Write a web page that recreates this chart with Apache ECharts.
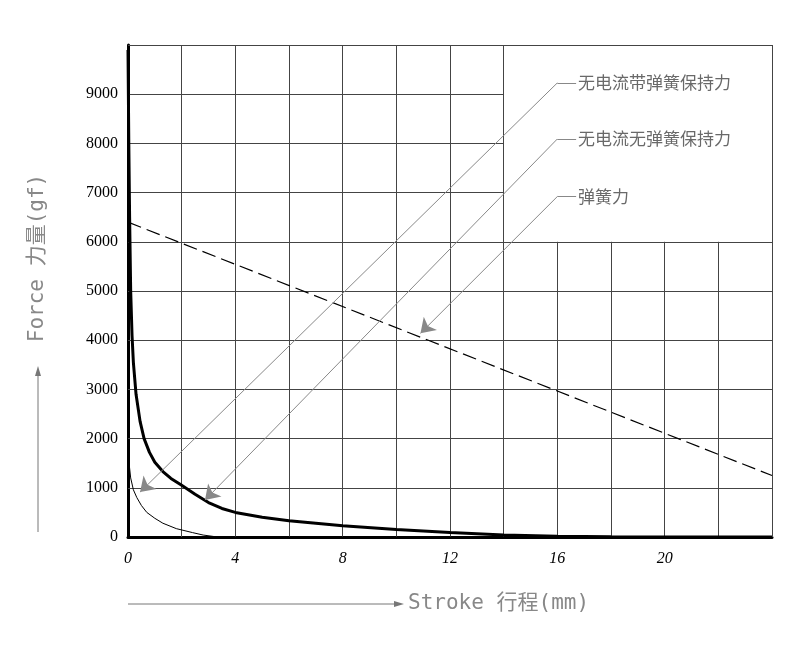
<!DOCTYPE html>
<html><head><meta charset="utf-8">
<script src="https://cdn.jsdelivr.net/npm/echarts@6/dist/echarts.min.js"></script>
<style>html,body{margin:0;background:#fff}#root{width:800px;height:654px}</style>
</head><body><div id="root"></div>
<script>
// curves (stroke mm, force gf)
const withSpring = [[0,9900],[0.03,8000],[0.06,6500],[0.1,5000],[0.15,4100],[0.2,3550],[0.3,2900],[0.45,2350],[0.6,2000],[0.8,1720],[1,1520],[1.3,1330],[1.6,1190],[2,1050],[2.5,870],[3,700],[3.5,580],[4,500],[5,400],[6,330],[7,280],[8,230],[10,150],[12,90],[14,40],[16,15],[18,5],[20,0],[24,0]];
const noSpring = [[0,1830],[0.05,1450],[0.1,1200],[0.2,960],[0.33,800],[0.5,640],[0.7,500],[1,380],[1.3,280],[1.8,170],[2.4,90],[2.8,40],[3.2,10],[4,0],[24,0]];
const springForce = [[0,6400],[24,1250]];
const labels = ['无电流带弹簧保持力','无电流无弹簧保持力','弹簧力'];
// leader lines: label end, corner, arrow tip
const labelEnds = [[16.7,9230],[16.7,8090],[16.7,6920]];
const corners = [[16.0,9230],[16.0,8090],[16.0,6920]];
const tips = [[0.45,913],[2.87,750],[10.9,4140]];

// drawing grid: full in lower part, upper-right box left empty
const gridSegs = [];
for (let x = 2; x <= 22; x += 2) gridSegs.push([[x,0],[x, x <= 14 ? 10000 : 6000]]);
for (let y = 1000; y <= 9000; y += 1000) gridSegs.push([[0,y],[y <= 6000 ? 24 : 14, y]]);
gridSegs.push([[0,10000],[24,10000]], [[24,0],[24,10000]]);

const chart = echarts.init(document.getElementById('root'));
const serif = '"Liberation Serif", "DejaVu Serif", serif';
chart.setOption({
  animation: false,
  grid: {left: 128, right: 28, top: 45, bottom: 117},
  xAxis: {
    type: 'value', min: 0, max: 24, interval: 4,
    axisLine: {lineStyle: {color: '#000', width: 3}},
    axisTick: {show: false}, splitLine: {show: false},
    axisLabel: {color: '#000', fontSize: 16, fontStyle: 'italic', fontFamily: serif, margin: 14,
      formatter: v => v > 20 ? '' : v}
  },
  yAxis: {
    type: 'value', min: 0, max: 10000, interval: 1000,
    axisLine: {show: true, lineStyle: {color: '#000', width: 3}},
    axisTick: {show: false}, splitLine: {show: false},
    axisLabel: {color: '#000', fontSize: 16, fontFamily: serif, margin: 10,
      formatter: v => v >= 10000 ? '' : v}
  },
  series: [
    {type: 'lines', coordinateSystem: 'cartesian2d', silent: true, z: 1,
      lineStyle: {color: '#444', width: 1, opacity: 1},
      data: gridSegs.map(c => ({coords: c}))},
    {type: 'line', data: withSpring, showSymbol: false, z: 5,
      lineStyle: {color: '#000', width: 3}},
    {type: 'line', data: noSpring, showSymbol: false, z: 5,
      lineStyle: {color: '#000', width: 1}},
    {type: 'line', data: springForce, showSymbol: false, z: 5,
      lineStyle: {color: '#000', width: 1.2, type: [14, 6]}},
    {type: 'lines', coordinateSystem: 'cartesian2d', z: 6,
      lineStyle: {color: '#888', width: 1, opacity: 1},
      data: labelEnds.map((p, i) => ({coords: [p, corners[i]]}))},
    {type: 'lines', coordinateSystem: 'cartesian2d', z: 6,
      symbol: ['none', 'arrow'], symbolSize: [6, 14],
      lineStyle: {color: '#888', width: 1, opacity: 1},
      itemStyle: {color: '#888'},
      data: corners.map((p, i) => ({coords: [p, tips[i]]}))},
    {type: 'scatter', symbolSize: 0, z: 7,
      data: labelEnds.map((p, i) => ({value: p, name: labels[i]})),
      label: {show: true, position: 'right', distance: 2, formatter: p => p.name,
        color: '#444', fontSize: 17, fontFamily: '"Noto Sans CJK SC", serif'}}
  ],
  graphic: [
    {type: 'line', shape: {x1: 38, y1: 532, x2: 38, y2: 372}, style: {stroke: '#777', lineWidth: 1}},
    {type: 'polygon', shape: {points: [[38, 366], [35, 376], [41, 376]]}, style: {fill: '#777'}},
    {type: 'text', x: 38, y: 258, rotation: Math.PI / 2, style: {text: 'Force 力量(gf)', fill: '#888',
      font: '21px "DejaVu Sans Mono", "Noto Sans CJK SC"', align: 'center', verticalAlign: 'middle'}},
    {type: 'line', shape: {x1: 128, y1: 604, x2: 396, y2: 604}, style: {stroke: '#777', lineWidth: 1}},
    {type: 'polygon', shape: {points: [[404, 604], [394, 601], [394, 607]]}, style: {fill: '#777'}},
    {type: 'text', x: 408, y: 604, style: {text: 'Stroke 行程(mm)', fill: '#888',
      font: '21px "DejaVu Sans Mono", "Noto Sans CJK SC"', align: 'left', verticalAlign: 'middle'}}
  ]
});
</script></body></html>
